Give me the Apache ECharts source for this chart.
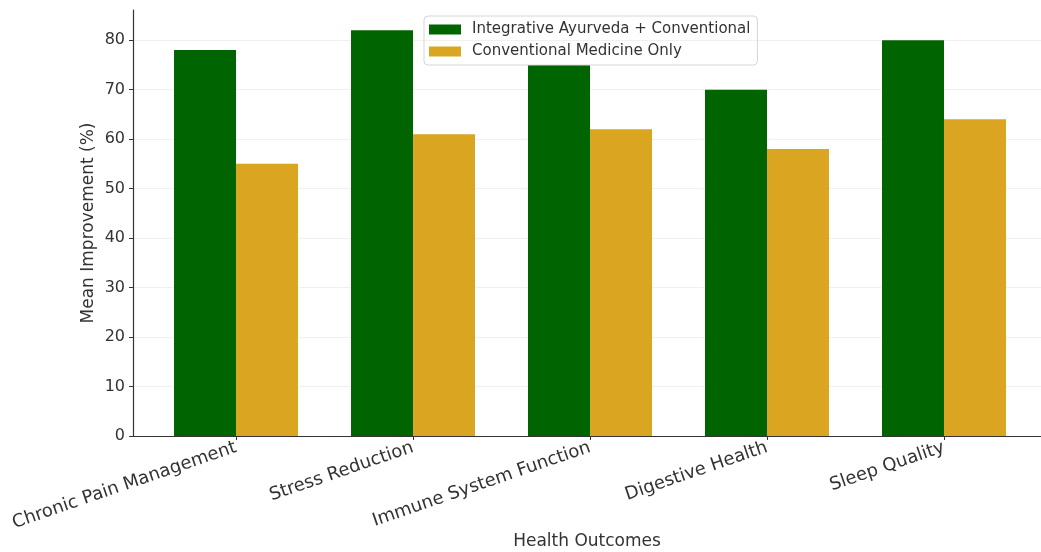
<!DOCTYPE html>
<html>
<head>
<meta charset="utf-8">
<script src="https://cdn.jsdelivr.net/npm/echarts@6/dist/echarts.min.js"></script>
<style>
  html, body { margin: 0; padding: 0; background: #fff; }
  #chart { width: 1041px; height: 552px; }
</style>
</head>
<body>
<div id="chart"></div>
<script>
var categories = ['Chronic Pain Management', 'Stress Reduction', 'Immune System Function', 'Digestive Health', 'Sleep Quality'];
var integrative = [78, 82, 75, 70, 80];
var conventional = [55, 61, 62, 58, 64];
var yTicks = [0, 10, 20, 30, 40, 50, 60, 70, 80];
var xTicks = [0, 1, 2, 3, 4];

// bars sit on a value axis so the x range can carry matplotlib-like margins
function pairs(vals) {
    return vals.map(function (v, i) { return [i, v]; });
}

var myChart = echarts.init(document.getElementById('chart'));
var font = 'DejaVu Sans';
var option = {
    backgroundColor: '#fff',
    animation: false,
    textStyle: { fontFamily: font },
    grid: {
        left: 133,
        right: 0,
        top: 10,
        bottom: 116,
        outerBoundsMode: 'none',
        containLabel: false
    },
    legend: {
        orient: 'vertical',
        left: 424,
        top: 16,
        padding: [6, 7, 6, 5],
        itemWidth: 32,
        itemHeight: 10,
        itemGap: 7,
        borderColor: '#d6d6d6',
        borderWidth: 1,
        borderRadius: 4,
        icon: 'rect',
        textStyle: { fontFamily: font, fontSize: 15, color: '#333', padding: [0, 0, 0, 6] },
        data: ['Integrative Ayurveda + Conventional', 'Conventional Medicine Only']
    },
    xAxis: {
        type: 'value',
        min: -0.582,
        max: 4.548,
        name: 'Health Outcomes',
        nameLocation: 'middle',
        nameGap: 97,
        nameMoveOverlap: false,
        nameTextStyle: { fontFamily: font, fontSize: 17, color: '#333' },
        axisLine: { show: true, onZero: false, lineStyle: { color: '#333', width: 1.2 } },
        axisTick: { show: true, customValues: xTicks, length: 4, lineStyle: { color: '#333' } },
        axisLabel: {
            customValues: xTicks,
            rotate: 19,
            margin: 11,
            fontSize: 18,
            color: '#333',
            formatter: function (v) { return categories[Math.round(v)]; }
        },
        splitLine: { show: false }
    },
    yAxis: {
        type: 'value',
        min: 0,
        max: 86.1,
        interval: 10,
        name: 'Mean Improvement (%)',
        nameLocation: 'middle',
        nameGap: 36,
        nameMoveOverlap: false,
        nameTextStyle: { fontFamily: font, fontSize: 17, color: '#333' },
        axisLine: { show: true, onZero: false, lineStyle: { color: '#333', width: 1.2 } },
        axisTick: { show: true, customValues: yTicks, length: 4, lineStyle: { color: '#333' } },
        axisLabel: { customValues: yTicks, fontSize: 16, color: '#333', margin: 8 },
        splitLine: { show: true, lineStyle: { color: '#f0f0f0', width: 1 } }
    },
    series: [
        {
            name: 'Integrative Ayurveda + Conventional',
            type: 'bar',
            barWidth: 62,
            barGap: '0%',
            itemStyle: { color: '#006400' },
            data: pairs(integrative)
        },
        {
            name: 'Conventional Medicine Only',
            type: 'bar',
            barWidth: 62,
            barGap: '0%',
            itemStyle: { color: '#DAA520' },
            data: pairs(conventional)
        }
    ]
};
myChart.setOption(option);
</script>
</body>
</html>
